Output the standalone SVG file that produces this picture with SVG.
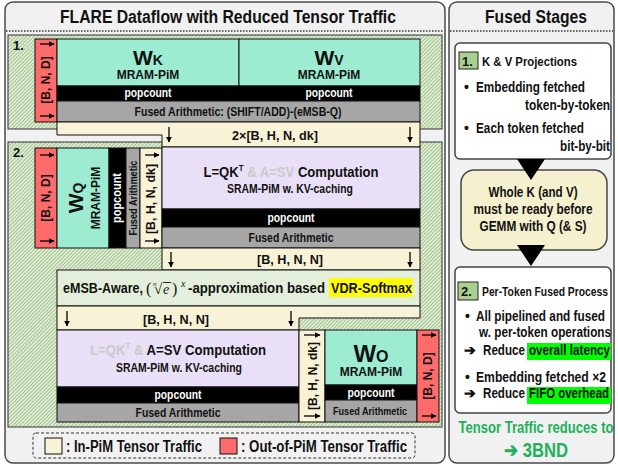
<svg xmlns="http://www.w3.org/2000/svg" width="618" height="466" viewBox="0 0 618 466">
  <defs>
    <pattern id="hatch" width="2.6" height="2.6" patternUnits="userSpaceOnUse" patternTransform="rotate(45)">
      <rect width="2.6" height="2.6" fill="#e0edd5"/>
      <line x1="0" y1="0" x2="0" y2="2.6" stroke="#93b87e" stroke-width="1.5"/>
    </pattern>
    <marker id="ah" viewBox="0 0 10 10" refX="9" refY="5" markerWidth="6" markerHeight="6" markerUnits="userSpaceOnUse" orient="auto">
      <path d="M0,0 L10,5 L0,10 z" fill="#000"/>
    </marker>
  </defs>
  <style>
    .t{font-family:"Liberation Sans",Arial,sans-serif;font-weight:bold;fill:#111}
    .m{font-family:"Liberation Serif","Times New Roman",serif;font-weight:normal;fill:#111}
    .c{text-anchor:middle}
    .e{text-anchor:end}
    .wt{fill:#fff}
    .panel{fill:#f1f1f1;stroke:#4a4a4a;stroke-width:1.5}
    .dots{stroke:#333;stroke-width:1.5;stroke-dasharray:1.5,1.5}
    .zone{fill:url(#hatch);stroke:#333;stroke-width:1}
    .cell{stroke:#111;stroke-width:1}
    .red{fill:#ff6b6b}
    .mint{fill:#9decd1}
    .blk{fill:#000}
    .gry{fill:#a6a6a6}
    .crm{fill:#f8f2d6}
    .lav{fill:#e9dff6}
    .lgr{fill:#e3efda}
    .box{fill:#fff;stroke:#444;stroke-width:1.5}
    .arw{stroke:#000;stroke-width:1.3;marker-end:url(#ah)}
    .lab{fill:#a9d08e;stroke:#222;stroke-width:1}
    .hl{fill:#00ff00}
    .yl{fill:#ffff00}
    .grn{fill:#22b05a}
  </style>

  <rect width="618" height="466" fill="#fff"/>

  <!-- left panel: dataflow -->
  <g id="dataflow-panel">
    <rect class="panel" x="5" y="2" width="440" height="461" rx="8"/>
    <text class="t c" x="228" y="23" font-size="18" textLength="336" lengthAdjust="spacingAndGlyphs"><tspan font-weight="900">FLARE</tspan> Dataflow with Reduced Tensor Traffic</text>
    <line class="dots" x1="6" y1="31" x2="444" y2="31"/>
  </g>

  <!-- right panel: fused stages -->
  <g id="stages-panel">
    <rect class="panel" x="449" y="2" width="165" height="461" rx="8"/>
    <text class="t c" x="536" y="23" font-size="18" textLength="102" lengthAdjust="spacingAndGlyphs">Fused Stages</text>
    <line class="dots" x1="450" y1="31" x2="613" y2="31"/>
  </g>

  <!-- stage zones -->
  <g id="stage1-zone">
    <rect class="zone" x="8" y="35" width="434" height="94"/>
    <text class="t" x="13" y="50" font-size="13">1.</text>
  </g>
  <g id="stage2-zone">
    <rect class="zone" x="8" y="142" width="434" height="285"/>
    <text class="t" x="13" y="157" font-size="13">2.</text>
  </g>

  <!-- stage 1: K and V projections -->
  <g id="s1-input">
    <rect class="cell red" x="35" y="39" width="22" height="83"/>
    <text class="t c" transform="translate(50,80) rotate(-90)" font-size="12">[B, N, D]</text>
  </g>
  <g id="wk">
    <rect class="cell mint" x="57" y="39" width="182" height="47"/>
    <text class="t c" x="148" y="65"><tspan font-size="21">W</tspan><tspan font-size="14">K</tspan></text>
    <text class="t c" x="148" y="79" font-size="12">MRAM-PiM</text>
  </g>
  <g id="wv">
    <rect class="cell mint" x="239" y="39" width="181" height="47"/>
    <text class="t c" x="329" y="65"><tspan font-size="21">W</tspan><tspan font-size="14">V</tspan></text>
    <text class="t c" x="329" y="79" font-size="12">MRAM-PiM</text>
  </g>
  <g id="s1-popcount">
    <rect class="cell blk" x="57" y="86" width="363" height="15"/>
    <text class="t c wt" x="148" y="97" font-size="12" textLength="47" lengthAdjust="spacingAndGlyphs">popcount</text>
    <text class="t c wt" x="329" y="97" font-size="12" textLength="47" lengthAdjust="spacingAndGlyphs">popcount</text>
  </g>
  <g id="s1-arith">
    <rect class="cell gry" x="57" y="101" width="363" height="21"/>
    <text class="t c" x="238" y="116" font-size="12" textLength="207" lengthAdjust="spacingAndGlyphs">Fused Arithmetic: (SHIFT/ADD)-(eMSB-Q)</text>
  </g>
  <g id="kv-traffic">
    <path class="cell crm" d="M57,122 H420 V147 H162 V135 H57 Z"/>
    <text class="t c" x="275" y="140" font-size="13" textLength="86" lengthAdjust="spacingAndGlyphs">2×[B, H, N, dk]</text>
  </g>

  <!-- stage 2: per-token fused process -->
  <g id="s2-input">
    <rect class="cell red" x="35" y="148" width="22" height="100"/>
    <text class="t c" transform="translate(50,198) rotate(-90)" font-size="12">[B, N, D]</text>
  </g>
  <g id="wq">
    <rect class="cell mint" x="57" y="148" width="52" height="100"/>
    <text class="t c" transform="translate(83,198) rotate(-90)"><tspan font-size="21">W</tspan><tspan font-size="14">Q</tspan></text>
    <text class="t c" transform="translate(100,198) rotate(-90)" font-size="12">MRAM-PiM</text>
  </g>
  <g id="wq-popcount">
    <rect class="cell blk" x="109" y="148" width="17" height="100"/>
    <text class="t c wt" transform="translate(121,198) rotate(-90)" font-size="12" textLength="50" lengthAdjust="spacingAndGlyphs">popcount</text>
  </g>
  <g id="wq-arith">
    <rect class="cell gry" x="126" y="148" width="14" height="100"/>
    <text class="t c" transform="translate(137,198) rotate(-90)" font-size="10" font-weight="normal" textLength="75" lengthAdjust="spacingAndGlyphs">Fused Arithmetic</text>
  </g>
  <g id="q-traffic">
    <rect class="cell crm" x="140" y="148" width="22" height="100"/>
    <text class="t c" transform="translate(155,199) rotate(-90)" font-size="12" textLength="70" lengthAdjust="spacingAndGlyphs">[B, H, N, dk]</text>
  </g>
  <g id="qk-compute">
    <rect class="cell lav" x="162" y="147" width="258" height="62"/>
    <text class="t c" x="291" y="177" font-size="15" textLength="175" lengthAdjust="spacingAndGlyphs">L=QK<tspan font-size="9" dy="-6">T</tspan><tspan dy="6" fill="#cacaca"> &amp; A=SV</tspan> Computation</text>
    <text class="t c" x="290" y="193" font-size="12" textLength="126" lengthAdjust="spacingAndGlyphs">SRAM-PiM w. KV-caching</text>
  </g>
  <g id="qk-popcount">
    <rect class="cell blk" x="162" y="209" width="258" height="18"/>
    <text class="t c wt" x="291" y="222" font-size="12" textLength="47" lengthAdjust="spacingAndGlyphs">popcount</text>
  </g>
  <g id="qk-arith">
    <rect class="cell gry" x="162" y="227" width="258" height="21"/>
    <text class="t c" x="291" y="242" font-size="12" textLength="85" lengthAdjust="spacingAndGlyphs">Fused Arithmetic</text>
  </g>
  <g id="score-traffic">
    <rect class="cell crm" x="162" y="248" width="258" height="22"/>
    <text class="t c" x="290" y="264" font-size="13" textLength="66" lengthAdjust="spacingAndGlyphs">[B, H, N, N]</text>
  </g>
  <g id="softmax">
    <rect class="cell lgr" x="57" y="270" width="363" height="36"/>
    <rect class="yl" x="329" y="278" width="84" height="19"/>
    <text class="t" x="63" y="293" font-size="14" textLength="80" lengthAdjust="spacingAndGlyphs">eMSB-Aware,</text>
    <text class="m" x="146" y="294" font-size="16">(</text>
    <text class="m" x="153" y="286" font-size="7" font-style="italic">n</text>
    <text class="m" x="154" y="294" font-size="15">√</text>
    <line x1="163" y1="282.5" x2="171" y2="282.5" stroke="#111" stroke-width="0.9"/>
    <text class="m" x="163" y="294" font-size="14" font-style="italic">e</text>
    <text class="m" x="172" y="294" font-size="16">)</text>
    <text class="m" x="181" y="287" font-size="10" font-style="italic">x</text>
    <text class="t" x="188" y="293" font-size="14" textLength="137" lengthAdjust="spacingAndGlyphs">-approximation based</text>
    <text class="t" x="331" y="293" font-size="14" textLength="81" lengthAdjust="spacingAndGlyphs">VDR-Softmax</text>
  </g>
  <g id="prob-traffic">
    <path class="cell crm" d="M57,306 H420 V318 H299 V330 H57 Z"/>
    <text class="t c" x="176" y="324" font-size="13" textLength="66" lengthAdjust="spacingAndGlyphs">[B, H, N, N]</text>
  </g>
  <g id="sv-compute">
    <rect class="cell lav" x="57" y="330" width="242" height="57"/>
    <text class="t c" x="178" y="355" font-size="15" textLength="176" lengthAdjust="spacingAndGlyphs"><tspan fill="#cacaca">L=QK<tspan font-size="9" dy="-6">T</tspan><tspan dy="6"> &amp;</tspan></tspan> A=SV Computation</text>
    <text class="t c" x="179" y="372" font-size="12" textLength="126" lengthAdjust="spacingAndGlyphs">SRAM-PiM w. KV-caching</text>
  </g>
  <g id="sv-popcount">
    <rect class="cell blk" x="57" y="387" width="242" height="16"/>
    <text class="t c wt" x="178" y="399" font-size="12" textLength="47" lengthAdjust="spacingAndGlyphs">popcount</text>
  </g>
  <g id="sv-arith">
    <rect class="cell gry" x="57" y="403" width="242" height="19"/>
    <text class="t c" x="178" y="417" font-size="12" textLength="85" lengthAdjust="spacingAndGlyphs">Fused Arithmetic</text>
  </g>
  <g id="attn-traffic">
    <rect class="cell crm" x="299" y="330" width="26" height="92"/>
    <text class="t c" transform="translate(317,376) rotate(-90)" font-size="12" textLength="68" lengthAdjust="spacingAndGlyphs">[B, H, N, dk]</text>
  </g>
  <g id="wo">
    <rect class="cell mint" x="325" y="330" width="92" height="55"/>
    <text class="t c" x="371" y="362"><tspan font-size="24">W</tspan><tspan font-size="16">O</tspan></text>
    <text class="t c" x="371" y="376" font-size="12">MRAM-PiM</text>
  </g>
  <g id="wo-popcount">
    <rect class="cell blk" x="325" y="385" width="92" height="15"/>
    <text class="t c wt" x="371" y="397" font-size="12" textLength="47" lengthAdjust="spacingAndGlyphs">popcount</text>
  </g>
  <g id="wo-arith">
    <rect class="cell gry" x="325" y="400" width="92" height="22"/>
    <text class="t c" x="370" y="415" font-size="11" textLength="74" lengthAdjust="spacingAndGlyphs">Fused Arithmetic</text>
  </g>
  <g id="s2-output">
    <rect class="cell red" x="417" y="330" width="22" height="92"/>
    <text class="t c" transform="translate(432,376) rotate(-90)" font-size="12">[B, N, D]</text>
  </g>

  <!-- legend -->
  <g id="legend">
    <rect x="33" y="433" width="382" height="25" rx="3" fill="none" stroke="#333" stroke-width="1" stroke-dasharray="3,2"/>
    <rect class="cell crm" x="45" y="438" width="17" height="16"/>
    <text class="t" x="66" y="452" font-size="16" textLength="136" lengthAdjust="spacingAndGlyphs">: In-PiM Tensor Traffic</text>
    <rect class="cell red" x="220" y="438" width="17" height="16"/>
    <text class="t" x="241" y="452" font-size="16" textLength="166" lengthAdjust="spacingAndGlyphs">: Out-of-PiM Tensor Traffic</text>
  </g>

  <!-- fused stages, right column -->
  <g id="stage1-note">
    <rect class="box" x="455" y="43" width="156" height="116" rx="5"/>
    <rect class="lab" x="459" y="52" width="19" height="17"/>
    <text class="t" x="462" y="66" font-size="13">1.</text>
    <text class="t" x="482" y="66" font-size="13" textLength="95" lengthAdjust="spacingAndGlyphs">K &amp; V Projections</text>
    <text class="t" x="464" y="92" font-size="14">•</text>
    <text class="t" x="476" y="92" font-size="14" textLength="109" lengthAdjust="spacingAndGlyphs">Embedding fetched</text>
    <text class="t e" x="610" y="110" font-size="14" textLength="85" lengthAdjust="spacingAndGlyphs">token-by-token</text>
    <text class="t" x="464" y="133" font-size="14">•</text>
    <text class="t" x="476" y="133" font-size="14" textLength="108" lengthAdjust="spacingAndGlyphs">Each token fetched</text>
    <text class="t e" x="610" y="151" font-size="14" textLength="50" lengthAdjust="spacingAndGlyphs">bit-by-bit</text>
  </g>
  <g id="constraint-note">
    <rect x="461" y="170" width="146" height="80" rx="13" fill="#f5f0cd" stroke="#444" stroke-width="1.5"/>
    <text class="t c" x="533" y="197" font-size="14" textLength="89" lengthAdjust="spacingAndGlyphs">Whole K (and V)</text>
    <text class="t c" x="533" y="214" font-size="14" textLength="119" lengthAdjust="spacingAndGlyphs">must be ready before</text>
    <text class="t c" x="533" y="231" font-size="14" textLength="107" lengthAdjust="spacingAndGlyphs">GEMM with Q (&amp; S)</text>
  </g>
  <g id="stage2-note">
    <rect class="box" x="455" y="267" width="156" height="146" rx="5"/>
    <rect class="lab" x="458" y="282" width="20" height="18"/>
    <text class="t" x="461" y="296" font-size="13">2.</text>
    <text class="t" x="482" y="296" font-size="13" textLength="126" lengthAdjust="spacingAndGlyphs">Per-Token Fused Process</text>
    <text class="t" x="465" y="321" font-size="14">•</text>
    <text class="t" x="476" y="321" font-size="14" textLength="129" lengthAdjust="spacingAndGlyphs">All pipelined and fused</text>
    <text class="t" x="479" y="337" font-size="14" textLength="132" lengthAdjust="spacingAndGlyphs">w. per-token operations</text>
    <text class="t" x="464" y="355" font-size="14" font-family="'DejaVu Sans',sans-serif">➔</text>
    <text class="t" x="483" y="355" font-size="14" textLength="42" lengthAdjust="spacingAndGlyphs">Reduce</text>
    <rect class="hl" x="527" y="343" width="84" height="17"/>
    <text class="t" x="529" y="355" font-size="14" textLength="81" lengthAdjust="spacingAndGlyphs">overall latency</text>
    <text class="t" x="465" y="382" font-size="14">•</text>
    <text class="t" x="476" y="382" font-size="14" textLength="130" lengthAdjust="spacingAndGlyphs">Embedding fetched ×2</text>
    <text class="t" x="464" y="398" font-size="14" font-family="'DejaVu Sans',sans-serif">➔</text>
    <text class="t" x="483" y="398" font-size="14" textLength="42" lengthAdjust="spacingAndGlyphs">Reduce</text>
    <rect class="hl" x="527" y="387" width="84" height="17"/>
    <text class="t" x="529" y="398" font-size="14" textLength="80" lengthAdjust="spacingAndGlyphs">FIFO overhead</text>
  </g>
  <g id="summary">
    <text class="t c grn" x="536" y="433" font-size="17" textLength="155" lengthAdjust="spacingAndGlyphs">Tensor Traffic reduces to</text>
    <text class="t c grn" x="536" y="457" font-size="20" textLength="64" lengthAdjust="spacingAndGlyphs">➔ 3BND</text>
  </g>

  <!-- connectors: traffic direction arrows and stage flow markers -->
  <g id="connectors">
    <line class="arw" x1="40" y1="44" x2="54" y2="44"/>
    <line class="arw" x1="40" y1="116" x2="54" y2="116"/>
    <line class="arw" x1="169" y1="127" x2="169" y2="142"/>
    <line class="arw" x1="410" y1="127" x2="410" y2="142"/>
    <line class="arw" x1="40" y1="155" x2="54" y2="155"/>
    <line class="arw" x1="40" y1="241" x2="54" y2="241"/>
    <line class="arw" x1="145" y1="155" x2="159" y2="155"/>
    <line class="arw" x1="145" y1="241" x2="159" y2="241"/>
    <line class="arw" x1="171" y1="252" x2="171" y2="267"/>
    <line class="arw" x1="410" y1="252" x2="410" y2="267"/>
    <line class="arw" x1="67" y1="311" x2="67" y2="326"/>
    <line class="arw" x1="291" y1="311" x2="291" y2="326"/>
    <line class="arw" x1="304" y1="335" x2="320" y2="335"/>
    <line class="arw" x1="304" y1="416" x2="320" y2="416"/>
    <line class="arw" x1="422" y1="335" x2="436" y2="335"/>
    <line class="arw" x1="422" y1="416" x2="436" y2="416"/>
    <polygon points="517,159 545,159 531,180" fill="#000"/>
    <polygon points="517,245 545,245 531,266" fill="#000"/>
  </g>
</svg>
